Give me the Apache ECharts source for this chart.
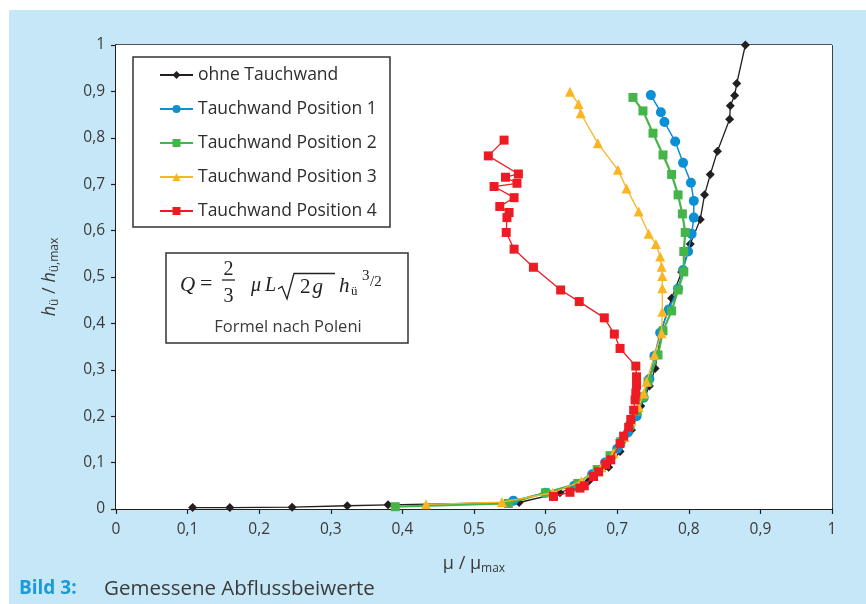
<!DOCTYPE html>
<html><head><meta charset="utf-8">
<script src="https://cdn.jsdelivr.net/npm/echarts@6/dist/echarts.min.js"></script>
<style>html,body{margin:0;padding:0;background:#fff}#c{width:866px;height:604px}</style>
</head><body><div id="c"></div>
<script>
const seriesNames = ['ohne Tauchwand','Tauchwand Position 1','Tauchwand Position 2','Tauchwand Position 3','Tauchwand Position 4'];
const tickLabels = ['0','0,1','0,2','0,3','0,4','0,5','0,6','0,7','0,8','0,9','1'];

const ohne = [[0.107,0.003],[0.159,0.003],[0.246,0.004],[0.323,0.007],[0.380,0.009],[0.563,0.014],[0.620,0.035],[0.660,0.060],[0.688,0.090],[0.704,0.124],[0.720,0.170],[0.733,0.222],[0.745,0.265],[0.753,0.303],[0.762,0.386],[0.776,0.454],[0.790,0.511],[0.802,0.571],[0.816,0.624],[0.822,0.677],[0.830,0.721],[0.840,0.771],[0.857,0.840],[0.858,0.869],[0.864,0.891],[0.867,0.917],[0.879,1.0]];
const pos1 = [[0.555,0.018],[0.600,0.035],[0.640,0.050],[0.665,0.075],[0.683,0.100],[0.700,0.130],[0.715,0.165],[0.727,0.200],[0.737,0.240],[0.745,0.280],[0.752,0.330],[0.760,0.380],[0.772,0.430],[0.785,0.475],[0.792,0.515],[0.799,0.555],[0.804,0.593],[0.807,0.628],[0.807,0.664],[0.803,0.703],[0.792,0.746],[0.781,0.792],[0.766,0.834],[0.761,0.855],[0.747,0.892]];
const pos2 = [[0.390,0.005],[0.548,0.012],[0.600,0.035],[0.645,0.055],[0.672,0.085],[0.690,0.115],[0.705,0.145],[0.718,0.180],[0.728,0.210],[0.736,0.242],[0.743,0.274],[0.757,0.332],[0.764,0.384],[0.776,0.427],[0.785,0.472],[0.793,0.511],[0.793,0.555],[0.795,0.596],[0.791,0.636],[0.785,0.677],[0.776,0.721],[0.764,0.763],[0.750,0.810],[0.736,0.858],[0.722,0.887]];
const pos3 = [[0.433,0.010],[0.539,0.015],[0.610,0.035],[0.650,0.060],[0.678,0.090],[0.695,0.120],[0.710,0.155],[0.720,0.190],[0.730,0.220],[0.737,0.249],[0.741,0.274],[0.752,0.332],[0.762,0.379],[0.763,0.425],[0.763,0.476],[0.763,0.502],[0.762,0.522],[0.760,0.544],[0.754,0.571],[0.744,0.593],[0.730,0.641],[0.713,0.691],[0.701,0.731],[0.673,0.788],[0.649,0.853],[0.646,0.873],[0.634,0.899]];
const pos4 = [[0.611,0.027],[0.634,0.036],[0.648,0.045],[0.654,0.050],[0.667,0.070],[0.674,0.080],[0.684,0.096],[0.691,0.106],[0.704,0.141],[0.709,0.157],[0.716,0.176],[0.719,0.193],[0.723,0.213],[0.725,0.235],[0.726,0.250],[0.727,0.267],[0.727,0.285],[0.726,0.308],[0.704,0.346],[0.696,0.377],[0.682,0.412],[0.647,0.447],[0.621,0.472],[0.583,0.521],[0.556,0.560],[0.545,0.596],[0.546,0.628],[0.549,0.639],[0.536,0.652],[0.556,0.671],[0.528,0.695],[0.560,0.702],[0.544,0.715],[0.562,0.722],[0.520,0.761],[0.542,0.795]];

const colors = ['#231f20','#0b8fd5','#45b549','#fbb523','#ed1c24'];
const symbols = ['diamond','circle','rect','triangle','rect'];
const sizes = [9,10,9,10,9];
const widths = [1.3,1.5,2.2,1.3,1.3];
const datas = [ohne,pos1,pos2,pos3,pos4];

const sans = '"Open Sans", "Noto Sans", sans-serif';
const serif = '"Liberation Serif", "DejaVu Serif", serif';
const fmt = v => tickLabels[Math.round(v*10)];

const chart = echarts.init(document.getElementById('c'), null, {renderer:'canvas'});
chart.setOption({
  backgroundColor:'#ffffff',
  animation:false,
  grid:{left:116,right:34,top:45,bottom:95,show:true,backgroundColor:'#ffffff',borderWidth:0,z:1},
  xAxis:{type:'value',min:0,max:1,interval:0.1,
    axisLine:{show:true,onZero:false,lineStyle:{color:'#231f20',width:2}},
    axisTick:{show:true,inside:false,length:5,lineStyle:{color:'#231f20',width:1.2}},
    axisLabel:{formatter:fmt,color:'#3a3a3a',fontFamily:sans,fontSize:15.5,margin:13},
    splitLine:{show:true,lineStyle:{color:'#262626',width:1.7}},
    name:'{a|μ / μ}{s|max}',nameLocation:'middle',nameGap:44,
    nameTextStyle:{rich:{a:{fontFamily:sans,fontSize:18,color:'#3a3a3a',lineHeight:22},s:{fontFamily:sans,fontSize:12,color:'#3a3a3a',lineHeight:13,verticalAlign:'bottom'}}}
  },
  yAxis:{type:'value',min:0,max:1,interval:0.1,
    axisLine:{show:true,onZero:false,lineStyle:{color:'#231f20',width:2}},
    axisTick:{show:true,inside:false,length:5,lineStyle:{color:'#231f20',width:1.2}},
    axisLabel:{formatter:fmt,color:'#3a3a3a',fontFamily:sans,fontSize:15.5,margin:11},
    splitLine:{show:true,lineStyle:{color:'#262626',width:1.7}},
    name:'{i|h}{s|ü}{a| / }{i|h}{s|ü,max}',nameLocation:'middle',nameGap:55,nameRotate:90,
    nameTextStyle:{rich:{i:{fontFamily:sans,fontStyle:'italic',fontSize:18,color:'#3a3a3a',lineHeight:22},a:{fontFamily:sans,fontSize:18,color:'#3a3a3a',lineHeight:22},s:{fontFamily:sans,fontSize:12,color:'#3a3a3a',lineHeight:13,verticalAlign:'bottom'}}}
  },
  legend:{orient:'vertical',left:159,top:65,itemWidth:33,itemHeight:10,itemGap:14,
    data:seriesNames,
    textStyle:{fontFamily:sans,fontSize:17.5,color:'#2e2e2e',lineHeight:20},
    backgroundColor:'transparent',borderWidth:0,padding:0,z:20},
  graphic:[
    {type:'rect',z:-10,silent:true,shape:{x:9,y:10,width:857,height:594},style:{fill:'#c6e7f7'}},
    {type:'rect',z:15,shape:{x:133,y:57,width:257,height:170},style:{fill:'#ffffff',stroke:'#333333',lineWidth:1.5}},
    {type:'rect',z:15,shape:{x:166,y:253,width:242,height:90},style:{fill:'#ffffff',stroke:'#333333',lineWidth:1.5}},
    {type:'text',z:16,x:180,y:285,style:{text:'Q',font:'italic 21px '+serif,fill:'#222',textVerticalAlign:'middle'}},
    {type:'text',z:16,x:200,y:284,style:{text:'=',font:'22px '+serif,fill:'#222',textVerticalAlign:'middle'}},
    {type:'text',z:16,x:228.5,y:270,style:{text:'2',font:'20px '+serif,fill:'#222',textAlign:'center',textVerticalAlign:'middle'}},
    {type:'line',z:16,shape:{x1:222,y1:280,x2:235,y2:280},style:{stroke:'#222',lineWidth:1.3}},
    {type:'text',z:16,x:228.5,y:297,style:{text:'3',font:'20px '+serif,fill:'#222',textAlign:'center',textVerticalAlign:'middle'}},
    {type:'text',z:16,x:251,y:286,style:{text:'μ',font:'italic 20px '+serif,fill:'#222',textVerticalAlign:'middle'}},
    {type:'text',z:16,x:265,y:286,style:{text:'L',font:'italic 20px '+serif,fill:'#222',textVerticalAlign:'middle'}},
    {type:'polyline',z:16,shape:{points:[[278,289],[282,286.5],[287,299],[294,273.5],[335,273.5]]},style:{stroke:'#222',lineWidth:1.3,fill:null}},
    {type:'text',z:16,x:300,y:287,style:{text:'{u|2}{i|g}',rich:{u:{font:'21px '+serif,fill:'#222',padding:[0,2,0,0]},i:{font:'italic 21px '+serif,fill:'#222'}},textVerticalAlign:'middle'}},
    {type:'text',z:16,x:339,y:286,style:{text:'h',font:'italic 21px '+serif,fill:'#222',textVerticalAlign:'middle'}},
    {type:'text',z:16,x:351,y:292,style:{text:'ü',font:'13px '+serif,fill:'#222',textVerticalAlign:'middle'}},
    {type:'text',z:16,x:362,y:276,style:{text:'3',font:'15px '+serif,fill:'#222',textVerticalAlign:'middle'}},
    {type:'text',z:16,x:370,y:282,style:{text:'/2',font:'15px '+serif,fill:'#222',textVerticalAlign:'middle'}},
    {type:'text',z:16,x:288,y:327,style:{text:'Formel nach Poleni',font:'16.5px '+sans,fill:'#3a3a3a',textAlign:'center',textVerticalAlign:'middle'}},
    {type:'text',z:16,x:19,y:589,style:{text:'Bild 3:',font:'bold 19px '+sans,fill:'#1a9bd7',textVerticalAlign:'middle'}},
    {type:'text',z:16,x:104,y:589,style:{text:'Gemessene Abflussbeiwerte',font:'20.5px '+sans,fill:'#3a3a3a',textVerticalAlign:'middle'}}
  ],
  series: datas.map((d,i)=>({
    name:seriesNames[i],type:'line',data:d,z:5+i,
    symbol:symbols[i],symbolSize:sizes[i],showSymbol:true,
    lineStyle:{color:colors[i],width:widths[i]},
    itemStyle:{color:colors[i],borderWidth:0},
    emphasis:{disabled:true}
  }))
});
</script></body></html>
